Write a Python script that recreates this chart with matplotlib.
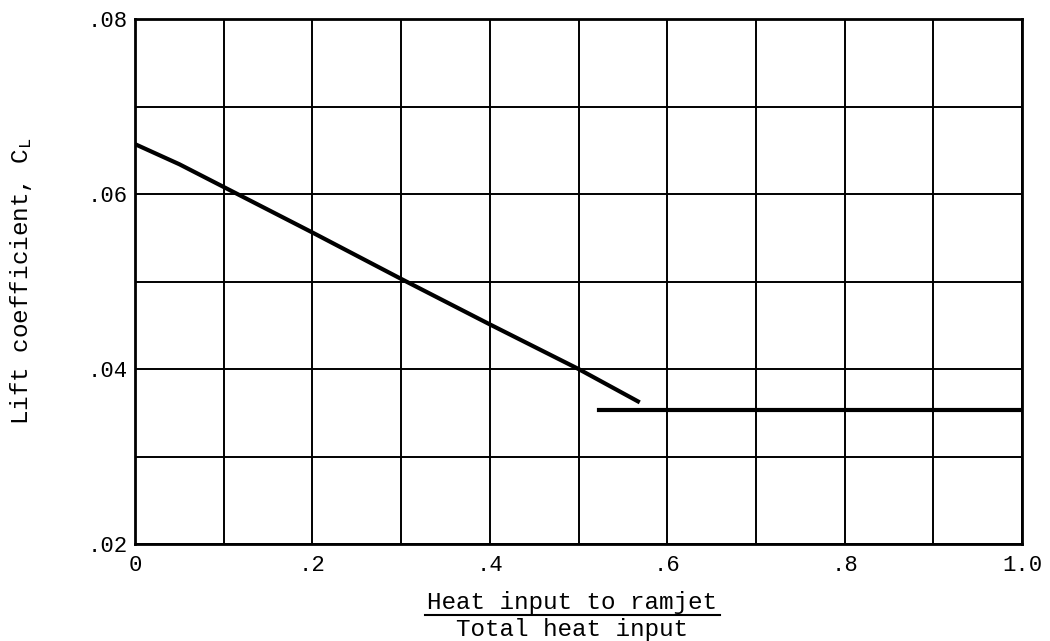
import numpy as np
import matplotlib.pyplot as plt
from matplotlib.lines import Line2D

plt.rcParams['font.family'] = 'Liberation Mono'
plt.rcParams['mathtext.fontset'] = 'custom'
plt.rcParams['mathtext.rm'] = 'Liberation Mono'

# ramjet heat fraction vs lift coefficient
frac1 = [0.0, 0.05, 0.1, 0.2, 0.3, 0.4, 0.5, 0.567]
cl1 = [0.0657, 0.0634, 0.0608, 0.0556, 0.0503, 0.0451, 0.0400, 0.0363]
frac2 = [0.5235, 1.0]
cl2 = [0.0353, 0.0353]

xticks = [0, 0.2, 0.4, 0.6, 0.8, 1.0]
xlabels = ['0', '.2', '.4', '.6', '.8', '1.0']
yticks = [0.02, 0.04, 0.06, 0.08]
ylabels = ['.02', '.04', '.06', '.08']

fig = plt.figure(figsize=(10.5, 6.41), dpi=100)
ax = fig.add_axes([135/1050, 1 - 544/641, 887/1050, 525/641])

ax.plot(frac1, cl1, color='black', lw=3)
ax.plot(frac2, cl2, color='black', lw=3)

ax.set_xlim(0, 1.0)
ax.set_ylim(0.02, 0.08)
ax.set_xticks(np.arange(0, 1.01, 0.1), minor=True)
ax.set_yticks(np.arange(0.02, 0.0801, 0.01), minor=True)
ax.set_xticks(xticks)
ax.set_xticklabels(xlabels)
ax.set_yticks(yticks)
ax.set_yticklabels(ylabels)
ax.grid(True, which='both', color='black', lw=1.4)
ax.tick_params(which='both', length=0, labelsize=16)
ax.tick_params(axis='x', pad=8)
ax.tick_params(axis='y', pad=5)
for s in ax.spines.values():
    s.set_linewidth(2)

ax.set_ylabel(r'Lift coefficient, $\mathrm{C_L}$', fontsize=17.5)
ax.yaxis.set_label_coords((34 - 135) / 887, 0.5)

# fraction-style x label
xc = 572 / 1050
fig.text(xc, 1 - 609/641, 'Heat input to ramjet', ha='center', va='baseline', fontsize=17.5)
fig.text(xc, 1 - 636/641, 'Total heat input', ha='center', va='baseline', fontsize=17.5)
fig.add_artist(Line2D([425/1050, 720/1050], [1 - 615/641, 1 - 615/641],
                      color='black', lw=1.5, transform=fig.transFigure))

fig.savefig('out.png', dpi=100)
